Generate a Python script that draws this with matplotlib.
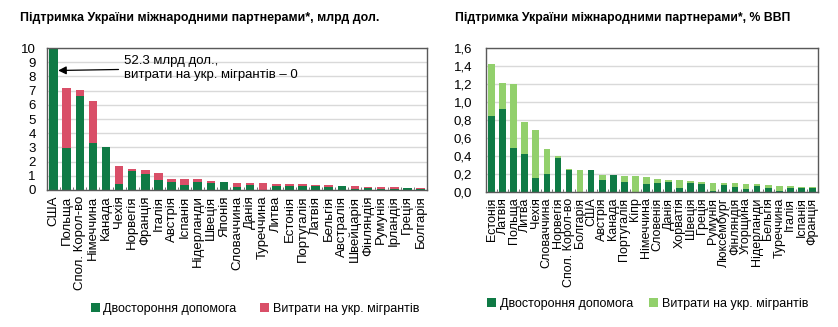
import matplotlib
matplotlib.use("Agg")
import numpy as np
from matplotlib import pyplot as plt
from matplotlib.ticker import FuncFormatter, MultipleLocator

plt.rcParams["font.family"] = ["Liberation Sans", "DejaVu Sans"]

GREEN = "#0f7a45"
RED = "#d94f68"
LIGHT_GREEN = "#92d06c"
GRID = "#d9d9d9"
FRAME = "#595959"

# Support in billions of USD
usd_countries = [
    "США", "Польща", "Спол. Корол-во", "Німеччина", "Канада", "Чехія",
    "Норвегія", "Франція", "Італія", "Австрія", "Іспанія", "Нідерланди",
    "Швеція", "Японія", "Словаччина", "Данія", "Туреччина", "Литва",
    "Естонія", "Португалія", "Латвія", "Бельгія", "Австралія", "Швейцарія",
    "Фінляндія", "Румунія", "Ірландія", "Греція", "Болгарія",
]
usd_bilateral = [
    52.3, 2.94, 6.61, 3.30, 3.04, 0.40, 1.36, 1.13, 0.68, 0.54, 0.35, 0.54,
    0.47, 0.59, 0.21, 0.35, 0.03, 0.27, 0.25, 0.25, 0.28, 0.20, 0.30, 0.10,
    0.12, 0.05, 0.05, 0.12, 0.05,
]
usd_migrants = [
    0.0, 4.26, 0.45, 3.00, 0.0, 1.32, 0.12, 0.31, 0.52, 0.24, 0.43, 0.24,
    0.19, 0.0, 0.28, 0.12, 0.46, 0.18, 0.17, 0.15, 0.10, 0.16, 0.0, 0.18,
    0.10, 0.17, 0.15, 0.04, 0.07,
]

# Support as % of donor GDP
gdp_countries = [
    "Естонія", "Латвія", "Польща", "Литва", "Чехія", "Словаччина",
    "Норвегія", "Спол. Корол-во", "Болгарія", "США", "Австрія", "Канада",
    "Португалія", "Кіпр", "Німеччина", "Словенія", "Данія", "Хорватія",
    "Швеція", "Греція", "Румунія", "Люксембург", "Фінляндія", "Угорщина",
    "Нідерланди", "Бельгія", "Туреччина", "Італія", "Іспанія", "Франція",
]
gdp_bilateral = [
    0.844, 0.920, 0.487, 0.424, 0.155, 0.203, 0.376, 0.240, 0.004, 0.247,
    0.130, 0.184, 0.114, 0.002, 0.088, 0.100, 0.107, 0.040, 0.096, 0.088,
    0.005, 0.074, 0.059, 0.030, 0.063, 0.044, 0.005, 0.044, 0.040, 0.044,
]
gdp_migrants = [
    0.572, 0.285, 0.711, 0.354, 0.535, 0.273, 0.026, 0.014, 0.243, 0.0,
    0.054, 0.0, 0.066, 0.178, 0.074, 0.047, 0.029, 0.096, 0.026, 0.019,
    0.098, 0.029, 0.037, 0.058, 0.022, 0.030, 0.065, 0.019, 0.019, 0.011,
]

legend_labels = ["Двостороння допомога", "Витрати на укр. мігрантів"]

fig = plt.figure(figsize=(8.38, 3.27), dpi=100)
ax_usd = fig.add_axes([47 / 838, 0.419, 380 / 838, 0.434])
ax_gdp = fig.add_axes([486 / 838, 0.413, 332 / 838, 0.441])


def style_axis(ax, n, ymax, step, xsize, ypad):
    ax.set_xlim(-0.5, n - 0.5)
    ax.set_ylim(0, ymax)
    ax.yaxis.set_major_locator(MultipleLocator(step))
    ax.grid(axis="y", color=GRID, linewidth=1.0)
    ax.set_axisbelow(True)
    for spine in ax.spines.values():
        spine.set_color(FRAME)
        spine.set_linewidth(1.0)
    ax.tick_params(axis="y", length=0, labelsize=9.5, pad=ypad)
    ax.tick_params(axis="x", length=0, labelsize=xsize, labelrotation=90,
                   pad=4)
    ax.set_xticks(np.arange(-0.5, n), minor=True)
    ax.tick_params(axis="x", which="minor", direction="in", length=2,
                   color=FRAME)


def add_legend(ax, anchor, spacing):
    ax.legend(loc="upper left", bbox_to_anchor=anchor, ncol=2,
              frameon=False, fontsize=9, handlelength=0.7,
              handleheight=0.7, handletextpad=0.3, columnspacing=spacing,
              borderaxespad=0)


x = np.arange(len(usd_countries))
ax_usd.bar(x, usd_bilateral, width=0.65, color=GREEN, label=legend_labels[0])
ax_usd.bar(x, usd_migrants, width=0.65, bottom=usd_bilateral, color=RED,
           label=legend_labels[1])
style_axis(ax_usd, len(usd_countries), 10, 1, 9.5, 8)
ax_usd.set_xticks(x, usd_countries)
ax_usd.annotate(
    "52.3 млрд дол.,\nвитрати на укр. мігрантів – 0",
    xy=(0.35, 8.42), xytext=(5.38, 8.6),
    fontsize=9.5, va="center", ha="left", linespacing=1.15,
    arrowprops=dict(arrowstyle="-|>", color="black", lw=0.9,
                    mutation_scale=12, shrinkA=2, shrinkB=0),
)
add_legend(ax_usd, (0.102, -0.76), 1.9)
fig.text(20 / 838, 1 - 18 / 327,
         "Підтримка України міжнародними партнерами*, млрд дол.",
         fontsize=8.9, fontweight="bold", va="center", ha="left")

x = np.arange(len(gdp_countries))
ax_gdp.bar(x, gdp_bilateral, width=0.6, color=GREEN, label=legend_labels[0])
ax_gdp.bar(x, gdp_migrants, width=0.6, bottom=gdp_bilateral,
           color=LIGHT_GREEN, label=legend_labels[1])
style_axis(ax_gdp, len(gdp_countries), 1.6, 0.2, 9, 10)
ax_gdp.yaxis.set_major_formatter(
    FuncFormatter(lambda v, _: f"{v:.1f}".replace(".", ","))
)
ax_gdp.set_xticks(x, gdp_countries)
add_legend(ax_gdp, (-0.012, -0.70), 1.3)
fig.text(455 / 838, 1 - 18 / 327,
         "Підтримка України міжнародними партнерами*, % ВВП",
         fontsize=8.8, fontweight="bold", va="center", ha="left")

fig.savefig("out.png", dpi=100)
